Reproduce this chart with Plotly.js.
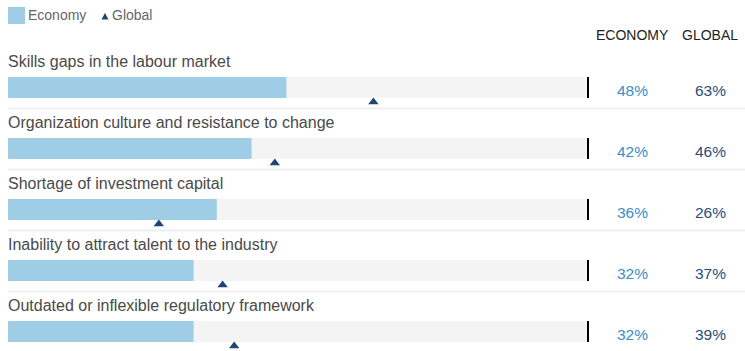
<!DOCTYPE html>
<html>
<head>
<meta charset="utf-8">
<script src="https://cdn.plot.ly/plotly-3.0.1.min.js"></script>
<style>html,body{margin:0;padding:0;background:#fff;}#chart{width:745px;height:351px;}</style>
</head>
<body>
<div id="chart"></div>
<script>
const categories = [
  "Skills gaps in the labour market",
  "Organization culture and resistance to change",
  "Shortage of investment capital",
  "Inability to attract talent to the industry",
  "Outdated or inflexible regulatory framework"
];
const economyValues = [48, 42, 36, 32, 32];
const globalValues = [63, 46, 26, 37, 39];
const scaleMax = 100;
const seriesNames = ["Economy", "Global"];
const columnHeaders = ["ECONOMY", "GLOBAL"];

const W = 745, H = 351;
const pxPerUnitX = 5.8, x0px = 8;
const rowPx = 61, firstRowPx = 87.5;
const xr = [-x0px / pxPerUnitX, (W - x0px) / pxPerUnitX];
const yr = [(H - firstRowPx) / rowPx, -firstRowPx / rowPx];
const px2x = p => (p - x0px) / pxPerUnitX;
const barW = 21 / rowPx;

const rows = categories.map((_, i) => i);
const font = "'Liberation Sans', Arial, Helvetica, sans-serif";

const traces = [
  {type: 'bar', orientation: 'h', y: rows, x: rows.map(() => scaleMax), width: barW,
   marker: {color: '#f4f4f4'}, hoverinfo: 'skip', showlegend: false},
  {type: 'bar', orientation: 'h', y: rows, x: economyValues, width: barW, name: seriesNames[0],
   marker: {color: '#9fcde5'}, showlegend: false},
  {type: 'scatter', mode: 'markers', x: globalValues, y: rows.map(i => i + 14.5 / rowPx), name: seriesNames[1],
   marker: {symbol: 'triangle-up', size: 9, color: '#1f4577'}, showlegend: false}
];

const shapes = [];
const annotations = [];
rows.forEach(i => {
  shapes.push({type: 'line', xref: 'x', yref: 'y', x0: scaleMax, x1: scaleMax,
    y0: i - barW / 2, y1: i + barW / 2, line: {color: '#000', width: 2}});
  shapes.push({type: 'line', xref: 'x', yref: 'y', x0: 0, x1: px2x(W),
    y0: i + 21 / rowPx, y1: i + 21 / rowPx, line: {color: '#efefef', width: 2}});
  annotations.push({xref: 'x', yref: 'y', x: 0, y: i - 26.5 / rowPx, text: categories[i], xshift: -2,
    showarrow: false, xanchor: 'left', yanchor: 'middle', font: {family: font, size: 16, color: '#4a4a4a'}});
  annotations.push({xref: 'x', yref: 'y', x: px2x(632), y: i + 3 / rowPx, text: economyValues[i] + '%',
    showarrow: false, xanchor: 'center', yanchor: 'middle', font: {family: font, size: 15.5, color: '#3a8dc6'}});
  annotations.push({xref: 'x', yref: 'y', x: px2x(710), y: i + 3 / rowPx, text: globalValues[i] + '%',
    showarrow: false, xanchor: 'center', yanchor: 'middle', font: {family: font, size: 15.5, color: '#2c4b76'}});
});
// column headers
annotations.push({xref: 'paper', yref: 'paper', x: 632 / W, y: 1 - 35 / H, text: columnHeaders[0],
  showarrow: false, xanchor: 'center', yanchor: 'middle', font: {family: font, size: 14, color: '#222'}});
annotations.push({xref: 'paper', yref: 'paper', x: 710 / W, y: 1 - 35 / H, text: columnHeaders[1],
  showarrow: false, xanchor: 'center', yanchor: 'middle', font: {family: font, size: 14, color: '#222'}});
// legend
shapes.push({type: 'rect', xref: 'paper', yref: 'paper', x0: 8 / W, x1: 25 / W, y0: 1 - 24 / H, y1: 1 - 7 / H,
  fillcolor: '#9fcde5', line: {width: 0}});
annotations.push({xref: 'paper', yref: 'paper', x: 28 / W, y: 1 - 15.5 / H, text: seriesNames[0], xshift: -2,
  showarrow: false, xanchor: 'left', yanchor: 'middle', font: {family: font, size: 14, color: '#666'}});
shapes.push({type: 'path', xref: 'paper', yref: 'paper',
  path: `M ${101.5 / W} ${1 - 19.5 / H} L ${108.5 / W} ${1 - 19.5 / H} L ${105 / W} ${1 - 13 / H} Z`,
  fillcolor: '#1f4577', line: {width: 0}});
annotations.push({xref: 'paper', yref: 'paper', x: 112 / W, y: 1 - 15.5 / H, text: seriesNames[1], xshift: -2,
  showarrow: false, xanchor: 'left', yanchor: 'middle', font: {family: font, size: 14, color: '#666'}});

const layout = {
  width: W, height: H,
  margin: {l: 0, r: 0, t: 0, b: 0, pad: 0},
  paper_bgcolor: '#fff', plot_bgcolor: '#fff',
  barmode: 'overlay',
  showlegend: false,
  xaxis: {range: xr, visible: false, showgrid: false, zeroline: false, fixedrange: true},
  yaxis: {range: yr, visible: false, showgrid: false, zeroline: false, fixedrange: true},
  shapes: shapes,
  annotations: annotations,
  font: {family: font}
};
Plotly.newPlot('chart', traces, layout, {displayModeBar: false, staticPlot: true});
</script>
</body>
</html>
